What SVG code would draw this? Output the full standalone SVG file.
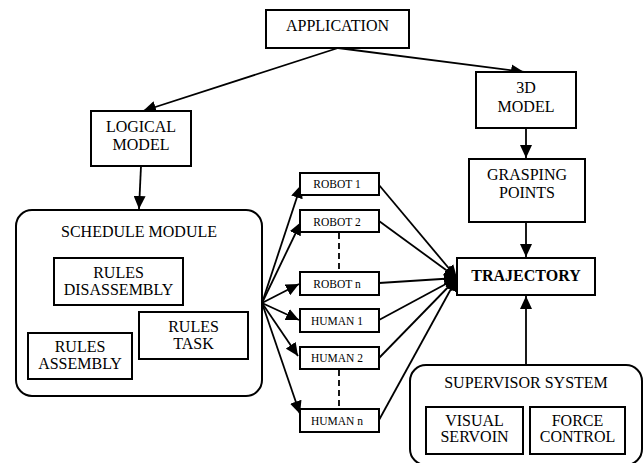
<svg xmlns="http://www.w3.org/2000/svg" width="644" height="463" viewBox="0 0 644 463">
<style>
.box{fill:#fff;stroke:#000;stroke-width:2}
text{font-family:'Liberation Serif','DejaVu Serif','Times New Roman',Times,serif;fill:#000;text-anchor:middle}
.t{font-size:16px}
.s{font-size:11.5px}
.b{font-weight:bold}
.c{stroke:#000;stroke-width:1.8;fill:none;marker-end:url(#ah)}
.d{stroke:#000;stroke-width:1.8;fill:none;stroke-dasharray:6 4}
</style>
<defs>
<marker id="ah" markerUnits="userSpaceOnUse" markerWidth="14" markerHeight="12" refX="13" refY="6" orient="auto">
<path d="M0,0 L13,6 L0,12 Z" fill="#000"/>
</marker>
</defs>
<rect width="644" height="463" fill="#fff"/>
<g id="connectors">
<line class="c" x1="338" y1="48" x2="143" y2="111"/>
<line class="c" x1="338" y1="48" x2="524" y2="72"/>
<line class="c" x1="141" y1="166" x2="139" y2="209"/>
<line class="c" x1="526" y1="128" x2="526" y2="158"/>
<line class="c" x1="526" y1="222" x2="526" y2="257"/>
<line class="c" x1="526" y1="365" x2="526" y2="296"/>
<line class="c" x1="262" y1="303" x2="301" y2="185"/>
<line class="c" x1="262" y1="303" x2="301" y2="222"/>
<line class="c" x1="262" y1="303" x2="299" y2="284"/>
<line class="c" x1="262" y1="303" x2="299" y2="320"/>
<line class="c" x1="262" y1="303" x2="298" y2="356"/>
<line class="c" x1="262" y1="303" x2="300" y2="414"/>
<line class="c" x1="379" y1="185" x2="457" y2="278"/>
<line class="c" x1="379" y1="221" x2="457" y2="278"/>
<line class="c" x1="379" y1="283" x2="457" y2="278"/>
<line class="c" x1="379" y1="320" x2="457" y2="278"/>
<line class="c" x1="379" y1="358" x2="457" y2="278"/>
<line class="c" x1="379" y1="420" x2="457" y2="278"/>
<line class="d" x1="339" y1="233" x2="339" y2="272"/>
<line class="d" x1="339" y1="370" x2="339" y2="409"/>
</g>
<g id="application">
<rect class="box" x="266" y="10" width="143" height="38"/>
<text class="t" x="337.5" y="31">APPLICATION</text>
</g>
<g id="logical-model">
<rect class="box" x="91" y="111" width="100" height="55"/>
<text class="t" x="141" y="132">LOGICAL</text>
<text class="t" x="141" y="150">MODEL</text>
</g>
<g id="model-3d">
<rect class="box" x="476" y="72" width="100" height="56"/>
<text class="t" x="526" y="93">3D</text>
<text class="t" x="526" y="112">MODEL</text>
</g>
<g id="grasping-points">
<rect class="box" x="469" y="159" width="116" height="63"/>
<text class="t" x="527" y="180">GRASPING</text>
<text class="t" x="527" y="198">POINTS</text>
</g>
<g id="schedule-module">
<rect class="box" x="16" y="210" width="246" height="186" rx="16"/>
<text class="t" x="139" y="237">SCHEDULE MODULE</text>
</g>
<g id="rules-disassembly">
<rect class="box" x="54" y="258" width="129" height="47"/>
<text class="t" x="118.5" y="278">RULES</text>
<text class="t" x="118.5" y="295">DISASSEMBLY</text>
</g>
<g id="rules-task">
<rect class="box" x="139" y="312" width="109" height="47"/>
<text class="t" x="193.5" y="332">RULES</text>
<text class="t" x="193.5" y="349">TASK</text>
</g>
<g id="rules-assembly">
<rect class="box" x="28" y="333" width="104" height="46"/>
<text class="t" x="80" y="352">RULES</text>
<text class="t" x="80" y="369">ASSEMBLY</text>
</g>
<g id="robot-1">
<rect class="box" x="300" y="173" width="79" height="22"/>
<text class="s" x="337" y="188">ROBOT 1</text>
</g>
<g id="robot-2">
<rect class="box" x="300" y="210" width="79" height="22"/>
<text class="s" x="337" y="226">ROBOT 2</text>
</g>
<g id="robot-n">
<rect class="box" x="300" y="272" width="79" height="23"/>
<text class="s" x="337" y="288">ROBOT n</text>
</g>
<g id="human-1">
<rect class="box" x="300" y="309" width="79" height="23"/>
<text class="s" x="337" y="325">HUMAN 1</text>
</g>
<g id="human-2">
<rect class="box" x="300" y="347" width="79" height="22"/>
<text class="s" x="337" y="362">HUMAN 2</text>
</g>
<g id="human-n">
<rect class="box" x="300" y="409" width="79" height="23"/>
<text class="s" x="337" y="425">HUMAN n</text>
</g>
<g id="trajectory">
<rect class="box" x="457" y="258" width="138" height="37"/>
<text class="t b" x="526" y="281">TRAJECTORY</text>
</g>
<g id="supervisor-system">
<rect class="box" x="410" y="365" width="232" height="100" rx="16"/>
<text class="t" x="526" y="388">SUPERVISOR SYSTEM</text>
</g>
<g id="visual-servoin">
<rect class="box" x="426" y="407" width="97" height="47"/>
<text class="t" x="474.5" y="426">VISUAL</text>
<text class="t" x="474.5" y="442">SERVOIN</text>
</g>
<g id="force-control">
<rect class="box" x="530" y="407" width="95" height="47"/>
<text class="t" x="577.5" y="426">FORCE</text>
<text class="t" x="577.5" y="442">CONTROL</text>
</g>
</svg>
